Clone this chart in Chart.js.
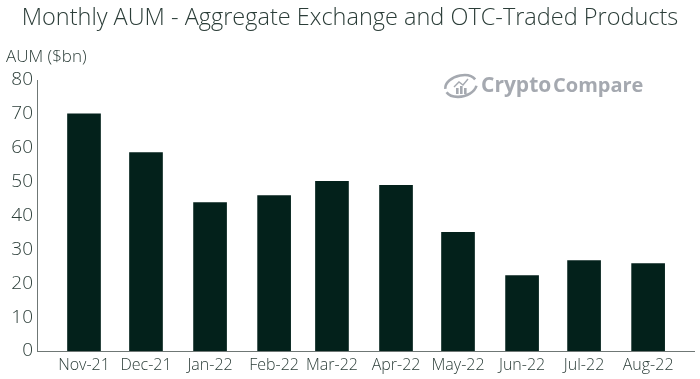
<!DOCTYPE html>
<html><head><meta charset="utf-8">
<style>html,body{margin:0;padding:0;background:#fff}#w{position:relative;width:700px;height:379px}canvas{display:block}</style>
<script src="https://cdn.jsdelivr.net/npm/chart.js@4"></script></head>
<body><div id="w"><canvas id="c" width="700" height="379"></canvas></div>
<script>
const categories=["Nov-21","Dec-21","Jan-22","Feb-22","Mar-22","Apr-22","May-22","Jun-22","Jul-22","Aug-22"];
const dayOffsets=[0,30,61,92,120,151,181,212,242,273];
const aum=[70,58.6,43.8,45.9,50.1,48.9,35,22.3,26.7,25.8];
const yTicks=[0,10,20,30,40,50,60,70,80];
const titleText="Monthly AUM - Aggregate Exchange and OTC-Traded Products";
const yTitle="AUM ($bn)";
const ink="#2b3d38",bar="#03211b",axisC="#6f7775",logoC="#a5a9b0";
const FF='"Open Sans"';

const logo={id:'logo',afterDraw(ch){
 const c=ch.ctx;c.save();
 c.strokeStyle=logoC;c.fillStyle=logoC;c.lineWidth=2.6;
 c.save();c.translate(461,86);c.rotate(-0.25);
 c.beginPath();c.ellipse(0,0,16,10.5,0,0.35,2.9);c.stroke();
 c.beginPath();c.ellipse(0,0,16,10.5,0,3.25,6.0);c.stroke();
 c.restore();
 c.fillRect(456,88,2.6,6);c.fillRect(460,86,2.6,8);c.fillRect(464,88,2.6,6);
 c.lineWidth=1.4;c.beginPath();c.moveTo(454,87);c.lineTo(459,82);c.lineTo(463,85);c.lineTo(468,79);c.stroke();
 c.font='700 21px '+FF;c.textBaseline='alphabetic';c.textAlign='left';
 c.fillText('Crypto',481,92);
 c.font='700 20px '+FF;c.fillText('Compare',553,92);
 c.restore();
}};
const labels={id:'labels',afterDraw(ch){
 const c=ch.ctx;c.save();c.fillStyle=ink;c.textBaseline='alphabetic';
 c.textAlign='center';c.font='300 23.5px '+FF;c.fillText(titleText,350,25);
 c.textAlign='left';c.font='300 17px '+FF;c.fillText(yTitle,6,62);
 c.restore();
}};
new Chart(document.getElementById('c'),{
 type:'bar',
 data:{datasets:[{data:dayOffsets.map((d,i)=>({x:d,y:aum[i]})),backgroundColor:bar,barThickness:33,borderWidth:0}]},
 options:{responsive:false,animation:false,
  layout:{padding:{left:0,right:6,top:80,bottom:0}},
  plugins:{legend:{display:false},tooltip:{enabled:false},title:{display:false}},
  scales:{
   x:{type:'linear',offset:false,min:-22.75,max:295.2,
    afterBuildTicks(s){s.ticks=dayOffsets.map(v=>({value:v}));},
    afterFit(s){s.height=28;},
    grid:{display:false,offset:false,drawTicks:true,tickLength:4,tickColor:axisC},
    border:{color:axisC,width:1},
    ticks:{autoSkip:false,maxRotation:0,padding:1,color:ink,font:{family:FF,weight:'300',size:16},
     callback:(v)=>categories[dayOffsets.indexOf(v)]}},
   y:{min:0,max:80,
    afterBuildTicks(s){s.ticks=yTicks.map(v=>({value:v}));},
    afterFit(s){s.width=37;},
    grid:{display:false,tickLength:3,tickColor:axisC},
    border:{color:axisC,width:1},
    ticks:{padding:1,color:ink,font:{family:FF,weight:'300',size:19}}}
  }},
 plugins:[logo,labels]
});
</script></body></html>
